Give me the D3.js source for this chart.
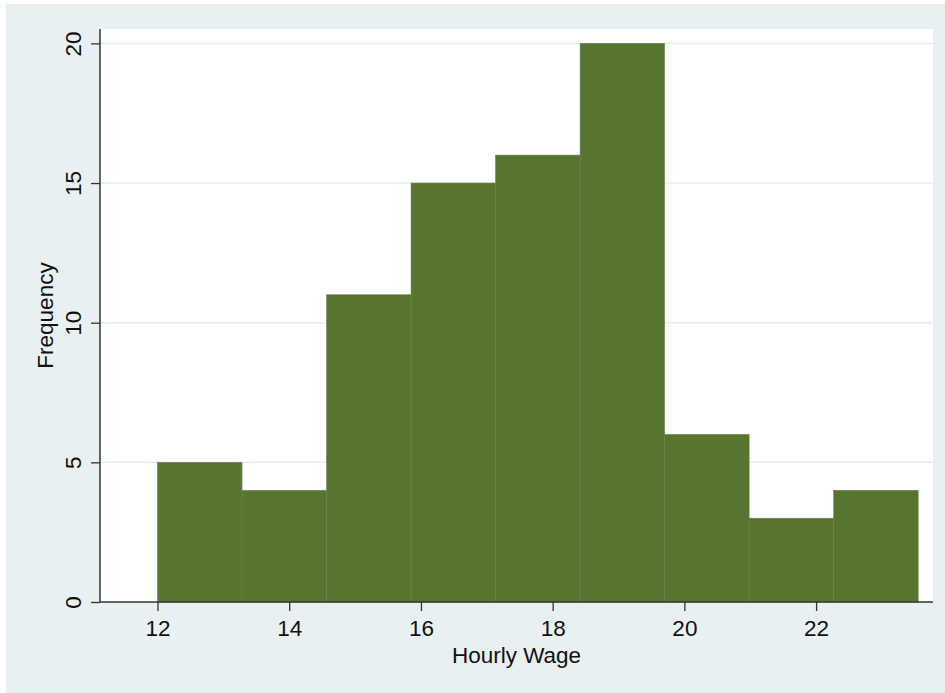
<!DOCTYPE html>
<html><head><meta charset="utf-8">
<script src="https://cdn.jsdelivr.net/npm/d3@7"></script>
<style>html,body{margin:0;padding:0;background:#fff;}svg{display:block;}text{font-family:"Liberation Sans",Arial,Helvetica,sans-serif;fill:#111;}</style>
</head><body>
<svg id="c" width="945" height="693"></svg>
<script>
// Data
const binStarts = [12.0, 13.283, 14.567, 15.85, 17.133, 18.417, 19.7, 20.983, 22.267];
const binWidth = 1.283;
const frequencies = [5, 4, 11, 15, 16, 20, 6, 3, 4];
const xTicks = [12, 14, 16, 18, 20, 22];
const yTicks = [0, 5, 10, 15, 20];
const xTitle = "Hourly Wage";
const yTitle = "Frequency";

const FS = 22.5;
const svg = d3.select("#c");
svg.append("rect").attr("x",6).attr("y",4).attr("width",939).attr("height",689).attr("fill","#E8F0F2");

const plot = {left:100, right:933, top:29, bottom:602};
svg.append("rect").attr("x",plot.left).attr("y",plot.top).attr("width",plot.right-plot.left).attr("height",plot.bottom-plot.top).attr("fill","#fff");

const x = d3.scaleLinear().domain([11.127, 23.775]).range([plot.left, plot.right]);
const y = d3.scaleLinear().domain([0, 20.515]).range([plot.bottom, plot.top]);

// grid
svg.append("g").selectAll("line").data(yTicks.filter(d=>d>0)).join("line")
  .attr("x1",plot.left).attr("x2",plot.right)
  .attr("y1",d=>y(d)).attr("y2",d=>y(d))
  .attr("stroke","#E3EDF0").attr("stroke-width",1.5);

// bars
svg.append("g").selectAll("rect").data(frequencies).join("rect")
  .attr("x",(d,i)=>x(binStarts[i]))
  .attr("width",(d,i)=>x(binStarts[i]+binWidth)-x(binStarts[i]))
  .attr("y",d=>y(d))
  .attr("height",d=>y(0)-y(d))
  .attr("fill","#577430")
  .attr("stroke","#67864a").attr("stroke-width",0.6);

// axes
const xAxis = d3.axisBottom(x).tickValues(xTicks).tickSize(9).tickPadding(9).tickFormat(d3.format("d"));
const gx = svg.append("g").attr("transform",`translate(0,${plot.bottom})`).call(xAxis);
gx.select(".domain").attr("stroke","#333").attr("stroke-width",1.5).attr("d",`M${plot.left},0H${plot.right}`);
gx.selectAll(".tick line").attr("stroke","#333").attr("stroke-width",1.3);
gx.selectAll(".tick text").attr("font-size",FS).attr("fill","#111").style("font-family","'Liberation Sans',Arial,sans-serif");

const yAxis = d3.axisLeft(y).tickValues(yTicks).tickSize(9).tickFormat(d3.format("d"));
const gy = svg.append("g").attr("transform",`translate(${plot.left},0)`).call(yAxis);
gy.select(".domain").attr("stroke","#333").attr("stroke-width",1.5).attr("d",`M0,${plot.top}V${plot.bottom}`);
gy.selectAll(".tick line").attr("stroke","#333").attr("stroke-width",1.3);
gy.selectAll(".tick text").attr("font-size",FS).attr("fill","#111")
  .attr("transform","rotate(-90)").attr("x",0).attr("y",-19).attr("dy","0").attr("text-anchor","middle")
  .style("font-family","'Liberation Sans',Arial,sans-serif");

svg.append("text").attr("x",(plot.left+plot.right)/2).attr("y",663).attr("text-anchor","middle").attr("font-size",FS).text(xTitle);
svg.append("text").attr("transform",`translate(53,${(plot.top+plot.bottom)/2}) rotate(-90)`).attr("text-anchor","middle").attr("font-size",FS).text(yTitle);
</script>
</body></html>
